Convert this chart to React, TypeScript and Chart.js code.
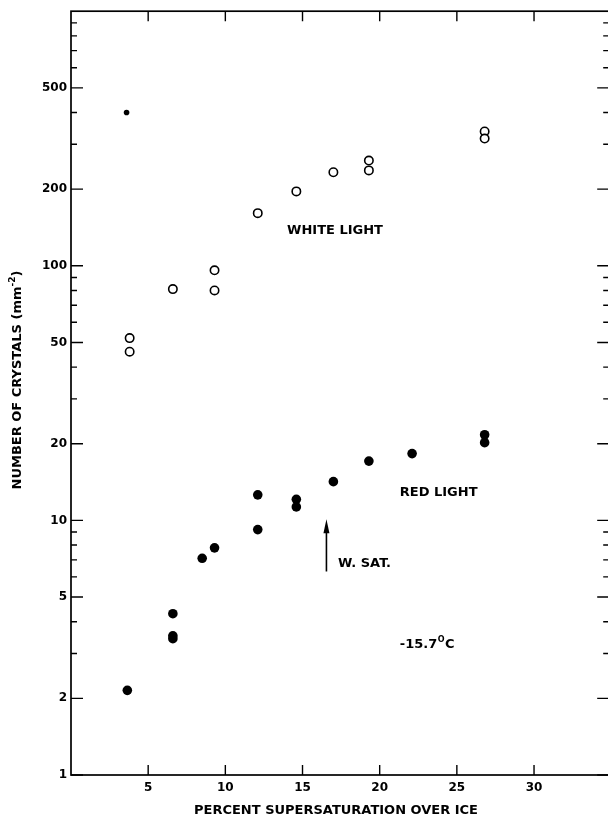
import React, { useEffect, useRef } from 'react';
import { Chart, registerables } from 'chart.js';

Chart.register(...registerables);

// ---- data ----
const WHITE_X = [3.8, 3.8, 6.6, 9.3, 9.3, 12.1, 14.6, 17.0, 19.3, 19.3, 26.8, 26.8];
const WHITE_Y = [52, 46, 81, 96, 80, 161, 196, 233, 259, 237, 337, 316];

const RED_X = [3.65, 6.6, 6.6, 6.6, 8.5, 9.3, 12.1, 12.1, 14.6, 14.6, 17.0, 19.3, 22.1, 26.8, 26.8];
const RED_Y = [2.15, 4.3, 3.52, 3.43, 7.1, 7.8, 12.6, 9.2, 12.1, 11.3, 14.2, 17.1, 18.3, 21.7, 20.2];

const STRAY_X = [3.6];
const STRAY_Y = [400];

const X_TICKS = [5, 10, 15, 20, 25, 30];
const Y_LABELED = [1, 2, 5, 10, 20, 50, 100, 200, 500];
const Y_MINOR = [3, 4, 6, 7, 8, 9, 30, 40, 60, 70, 80, 90, 300, 400, 600, 700, 800, 900];

const X_TITLE = 'PERCENT SUPERSATURATION OVER ICE';
const Y_TITLE = 'NUMBER OF CRYSTALS (mm';
const Y_TITLE_SUP = '-2';

const FONT = '"DejaVu Sans", "Liberation Sans", sans-serif';

const framePlugin = {
  id: 'frameAndNotes',
  afterDraw(chart: any) {
    const { ctx, chartArea: a, scales } = chart;
    const x = scales.x;
    const y = scales.y;
    ctx.save();
    ctx.strokeStyle = '#000';
    ctx.fillStyle = '#000';

    // frame
    ctx.lineWidth = 1.7;
    ctx.strokeRect(a.left, a.top, a.right - a.left, a.bottom - a.top);

    // ticks (inward)
    ctx.lineWidth = 1.4;
    ctx.beginPath();
    for (const v of Y_LABELED) {
      const p = y.getPixelForValue(v);
      ctx.moveTo(a.left, p); ctx.lineTo(a.left + 12, p);
      ctx.moveTo(a.right, p); ctx.lineTo(a.right - 14, p);
    }
    for (const v of Y_MINOR) {
      const p = y.getPixelForValue(v);
      ctx.moveTo(a.left, p); ctx.lineTo(a.left + 6, p);
      ctx.moveTo(a.right, p); ctx.lineTo(a.right - 8, p);
    }
    for (const v of X_TICKS) {
      const p = x.getPixelForValue(v);
      ctx.moveTo(p, a.bottom); ctx.lineTo(p, a.bottom - 10);
      ctx.moveTo(p, a.top); ctx.lineTo(p, a.top + 10);
    }
    ctx.stroke();

    // annotations
    ctx.textBaseline = 'middle';
    ctx.textAlign = 'left';
    ctx.font = `bold 13px ${FONT}`;
    ctx.fillText('WHITE LIGHT', x.getPixelForValue(14.0), y.getPixelForValue(137));
    ctx.fillText('RED LIGHT', x.getPixelForValue(21.3), y.getPixelForValue(12.9));
    ctx.fillText('W. SAT.', x.getPixelForValue(17.3), y.getPixelForValue(6.75));

    // temperature with superscript o
    let tx = x.getPixelForValue(21.3);
    const ty = y.getPixelForValue(3.25);
    ctx.font = `bold 13px ${FONT}`;
    ctx.fillText('-15.7', tx, ty);
    tx += ctx.measureText('-15.7').width + 0.5;
    ctx.font = `bold 8px ${FONT}`;
    ctx.fillText('O', tx, ty - 5);
    tx += ctx.measureText('O').width + 0.5;
    ctx.font = `bold 13px ${FONT}`;
    ctx.fillText('C', tx, ty);

    // arrow for water saturation
    const ax = x.getPixelForValue(16.55);
    const aTip = y.getPixelForValue(10.1);
    const aBase = y.getPixelForValue(6.3);
    ctx.lineWidth = 1.6;
    ctx.beginPath();
    ctx.moveTo(ax, aBase); ctx.lineTo(ax, aTip + 8);
    ctx.stroke();
    ctx.beginPath();
    ctx.moveTo(ax, aTip);
    ctx.lineTo(ax - 3, aTip + 14);
    ctx.lineTo(ax + 3, aTip + 14);
    ctx.closePath();
    ctx.fill();

    // x axis title
    ctx.textAlign = 'center';
    ctx.font = `bold 13px ${FONT}`;
    ctx.fillText(X_TITLE, 336, 811);

    // y axis title (rotated) with superscript
    ctx.save();
    ctx.translate(18, 380);
    ctx.rotate(-Math.PI / 2);
    ctx.textAlign = 'left';
    ctx.font = `bold 13px ${FONT}`;
    const w1 = ctx.measureText(Y_TITLE).width;
    ctx.font = `bold 9px ${FONT}`;
    const w2 = ctx.measureText(Y_TITLE_SUP).width;
    ctx.font = `bold 13px ${FONT}`;
    const w3 = ctx.measureText(')').width;
    let sx = -(w1 + w2 + w3) / 2;
    ctx.fillText(Y_TITLE, sx, 0);
    sx += w1;
    ctx.font = `bold 9px ${FONT}`;
    ctx.fillText(Y_TITLE_SUP, sx, -5);
    sx += w2;
    ctx.font = `bold 13px ${FONT}`;
    ctx.fillText(')', sx, 0);
    ctx.restore();

    ctx.restore();
  },
};

export default function App() {
  const ref = useRef<HTMLCanvasElement>(null);

  useEffect(() => {
    if (!ref.current) return;
    const white = WHITE_X.map((v, i) => ({ x: v, y: WHITE_Y[i] }));
    const red = RED_X.map((v, i) => ({ x: v, y: RED_Y[i] }));
    const stray = STRAY_X.map((v, i) => ({ x: v, y: STRAY_Y[i] }));

    const chart = new Chart(ref.current, {
      type: 'scatter',
      data: {
        datasets: [
          {
            label: 'White light',
            data: white,
            pointStyle: 'circle',
            pointRadius: 4.2,
            pointBorderWidth: 1.6,
            pointBackgroundColor: '#fff',
            pointBorderColor: '#000',
          },
          {
            label: 'Red light',
            data: red,
            pointStyle: 'circle',
            pointRadius: 4.8,
            pointBorderWidth: 0,
            pointBackgroundColor: '#000',
            pointBorderColor: '#000',
          },
          {
            label: 'mark',
            data: stray,
            pointStyle: 'circle',
            pointRadius: 2.8,
            pointBorderWidth: 0,
            pointBackgroundColor: '#000',
            pointBorderColor: '#000',
          },
        ],
      },
      options: {
        responsive: false,
        animation: false,
        layout: { padding: { top: 7, right: 1, left: 0, bottom: 0 } },
        plugins: {
          legend: { display: false },
          tooltip: { enabled: false },
          title: { display: false },
        },
        scales: {
          x: {
            type: 'linear',
            min: 0,
            max: 35,
            afterBuildTicks: (s: any) => {
              s.ticks = X_TICKS.map((v) => ({ value: v }));
            },
            afterFit: (s: any) => {
              s.height = 44;
            },
            grid: { display: false, drawTicks: false },
            border: { display: false },
            ticks: {
              autoSkip: false,
              maxRotation: 0,
              padding: 6,
              color: '#000',
              font: { family: FONT, size: 12, weight: 'bold' },
              callback: (v: any) => String(v),
            },
          },
          y: {
            type: 'logarithmic',
            min: 1,
            max: 1000,
            afterBuildTicks: (s: any) => {
              s.ticks = Y_LABELED.map((v) => ({ value: v }));
            },
            afterFit: (s: any) => {
              s.width = 71;
            },
            grid: { display: false, drawTicks: false },
            border: { display: false },
            ticks: {
              autoSkip: false,
              padding: 4,
              color: '#000',
              font: { family: FONT, size: 12, weight: 'bold' },
              callback: (v: any) => String(v),
            },
          },
        },
      },
      plugins: [framePlugin],
    });

    return () => chart.destroy();
  }, []);

  return (
    <div
      style={{
        position: 'absolute',
        left: 0,
        top: 0,
        width: 608,
        height: 819,
        overflow: 'hidden',
        background: '#fff',
      }}
    >
      <canvas ref={ref} width={617} height={819} style={{ display: 'block' }} />
    </div>
  );
}
